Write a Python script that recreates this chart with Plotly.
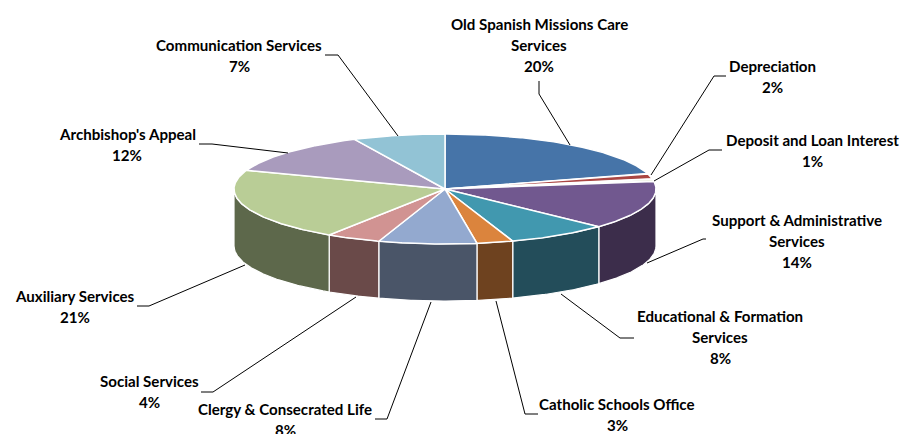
import math
import plotly.graph_objects as go

categories = ["Old Spanish Missions Care Services", "Depreciation", "Deposit and Loan Interest",
              "Support & Administrative Services", "Educational & Formation Services",
              "Catholic Schools Office", "Clergy & Consecrated Life", "Social Services",
              "Auxiliary Services", "Archbishop's Appeal", "Communication Services"]
values = [20.45, 1.55, 0.7, 14.3, 7.8, 2.78, 7.5, 4.17, 21.25, 12.45, 7.05]
label_lines = [["Old Spanish Missions Care", "Services"], ["Depreciation"], ["Deposit and Loan Interest"],
               ["Support & Administrative", "Services"], ["Educational & Formation", "Services"],
               ["Catholic Schools Office"], ["Clergy & Consecrated Life"], ["Social Services"],
               ["Auxiliary Services"], ["Archbishop's Appeal"], ["Communication Services"]]
top_colors = ["#4674a8", "#aa4643", "#c3cf9f", "#71588f", "#4198af", "#db843d",
              "#93a9cf", "#d19392", "#b9cd96", "#a99bbd", "#92c3d5"]
side_colors = ["#2a4565", "#662a28", "#52632f", "#3c2d4b", "#234d5a", "#6e421f",
               "#4a5568", "#6a4a49", "#5d684b", "#5a4e6e", "#4e7b8c"]

# pie geometry in page pixels
CX, CY, RX, RY, DEPTH = 445, 189, 211, 55, 57
# label placement: centre x, first line centre y, leader polyline
label_pos = [(539, 24), (772, 66), (812, 140), (797, 220), (720, 316), (617, 404),
             (285, 409), (149, 381), (75, 296), (127, 134), (239, 45)]
leaders = [
    [(570, 145), (539, 94), (539, 81)],
    [(651, 175), (714, 76), (726, 76)],
    [(654, 181), (709, 150), (722, 150)],
    [(647, 263), (703, 239), (706, 239)],
    [(561, 294), (620, 338), (634, 338)],
    [(496, 301), (525, 414), (538, 414)],
    [(431, 302), (387, 419), (375, 419)],
    [(356, 297), (213, 392), (201, 392)],
    [(245, 265), (149, 306), (137, 306)],
    [(288, 153), (212, 144), (199, 144)],
    [(398, 136), (338, 55), (325, 55)],
]
LINE_H = 20.8
FONT = dict(family="Lato", size=15.1, color="#000000")


def rim(t, dy=0.0):
    a = math.radians(t)
    return CX + RX * math.sin(a), CY - RY * math.cos(a) + dy


def arc(t0, t1, dy=0.0):
    n = max(2, int(abs(t1 - t0) * 2) + 1)
    return [rim(t0 + (t1 - t0) * i / (n - 1), dy) for i in range(n)]


total = sum(values)
angles = [0.0]
for v in values:
    angles.append(angles[-1] + v / total * 360)

fig = go.Figure()


def poly(pts, fill, lw):
    fig.add_trace(go.Scatter(
        x=[p[0] for p in pts], y=[p[1] for p in pts], mode="lines", fill="toself",
        fillcolor=fill, line=dict(color="#ffffff", width=lw), hoverinfo="skip", showlegend=False))


# front wall
for i in range(len(values)):
    a0, a1 = max(angles[i], 90), min(angles[i + 1], 270)
    if a1 > a0:
        pts = arc(a0, a1) + arc(a1, a0, DEPTH)
        pts.append(pts[0])
        poly(pts, side_colors[i], 1.2)

# top face
for i in range(len(values)):
    pts = [(CX, CY)] + arc(angles[i], angles[i + 1]) + [(CX, CY)]
    poly(pts, top_colors[i], 1.5)

# leader lines
for lead in leaders:
    fig.add_trace(go.Scatter(
        x=[p[0] for p in lead], y=[p[1] for p in lead], mode="lines",
        line=dict(color="#000000", width=1), hoverinfo="skip", showlegend=False))

annotations = []
for lines, v, (lx, ly) in zip(label_lines, values, label_pos):
    for j, text in enumerate(lines + [f"{round(v)}%"]):
        annotations.append(dict(x=lx, y=ly + j * LINE_H, text=f"<b>{text}</b>", showarrow=False,
                                xanchor="center", yanchor="middle", font=FONT))

fig.update_layout(
    width=902, height=434, margin=dict(l=0, r=0, t=0, b=0),
    paper_bgcolor="#ffffff", plot_bgcolor="#ffffff", showlegend=False,
    xaxis=dict(range=[0, 902], visible=False, fixedrange=True),
    yaxis=dict(range=[434, 0], visible=False, fixedrange=True),
    annotations=annotations,
)
fig.write_html("out.html", config=dict(displayModeBar=False),
               post_script="document.body.style.margin='0';document.body.style.overflow='hidden';")
